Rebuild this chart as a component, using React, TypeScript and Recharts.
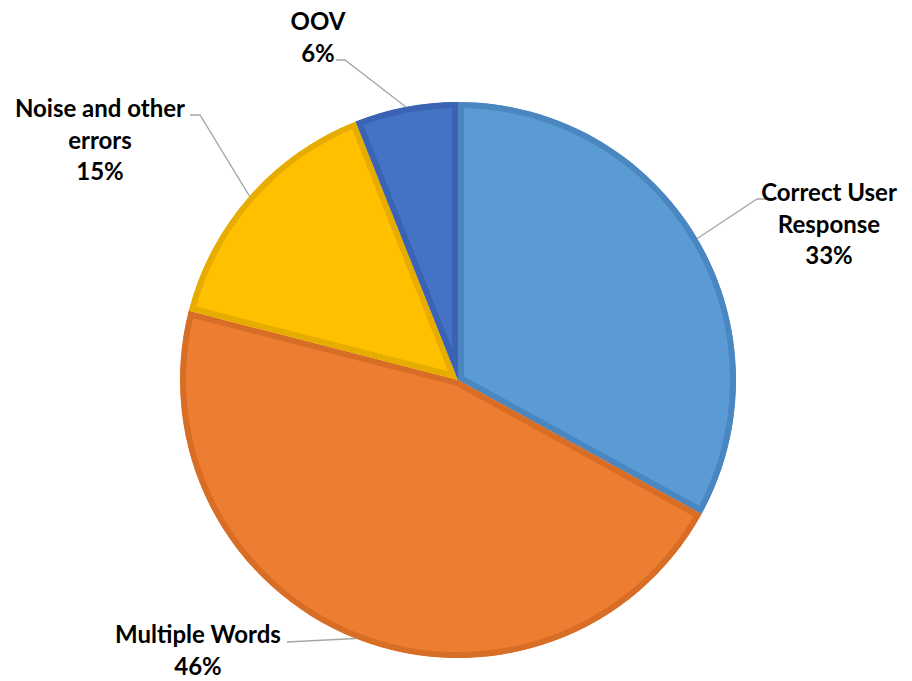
import React from 'react';
import { PieChart, Pie, Cell, Sector } from 'recharts';

const categories = ['Correct User Response', 'Multiple Words', 'Noise and other errors', 'OOV'];
const shares = [33, 46, 15, 6];
// how each label is broken into lines in the original
const labelLines = [['Correct User', 'Response'], ['Multiple Words'], ['Noise and other', 'errors'], ['OOV']];

const fills = ['#5B9BD5', '#ED7D31', '#FFC000', '#4472C4'];
const borders = ['#4A86C0', '#D86E26', '#E6AC00', '#3A64B3'];

// label placement, relative to the pie centre: text centre/first baseline, elbow and line end
const labelLayout = [
  { tx: 371, ty: -179, ex: 299, ey: -181, hx: 309 },
  { tx: -260, ty: 263, ex: -171, ey: 262, hx: -171 },
  { tx: -358, ty: -263, ex: -258, ey: -265, hx: -268 },
  { tx: -140, ty: -350, ex: -113, ey: -320, hx: -122 },
];

const data = categories.map((name, i) => ({ name, value: shares[i] }));

const RAD = Math.PI / 180;
const FONT = 'Lato, "Open Sans", sans-serif';

const renderSlice = (props: any) => {
  const i = props.index ?? 0;
  const id = `slice-clip-${i}`;
  return (
    <g>
      <defs>
        <clipPath id={id}>
          <Sector {...props} stroke="none" />
        </clipPath>
      </defs>
      <Sector {...props} fill={fills[i]} stroke={borders[i]} strokeWidth={12} clipPath={`url(#${id})`} />
    </g>
  );
};

const renderLabel = (props: any) => {
  const { cx, cy, midAngle, outerRadius, index } = props;
  const l = labelLayout[index];
  const sx = cx + outerRadius * Math.cos(-midAngle * RAD);
  const sy = cy + outerRadius * Math.sin(-midAngle * RAD);
  const lines = [...labelLines[index], `${shares[index]}%`];
  return (
    <g>
      <polyline
        points={`${sx},${sy} ${cx + l.ex},${cy + l.ey} ${cx + l.hx},${cy + l.ey}`}
        fill="none"
        stroke="#A6A6A6"
        strokeWidth={1.3}
      />
      <text x={cx + l.tx} y={cy + l.ty} textAnchor="middle" fontFamily={FONT} fontWeight={700} fontSize={24} fill="#000">
        {lines.map((t, k) => (
          <tspan key={k} x={cx + l.tx} dy={k === 0 ? 0 : 31.5}>{t}</tspan>
        ))}
      </text>
    </g>
  );
};

export default function App() {
  return (
    <div style={{ position: 'absolute', left: 0, top: 0, width: 912, height: 681, background: '#fff' }}>
      <PieChart width={912} height={681} margin={{ top: 0, right: 0, bottom: 0, left: 0 }}>
        <Pie
          data={data}
          dataKey="value"
          nameKey="name"
          cx={458}
          cy={380}
          outerRadius={278}
          startAngle={90}
          endAngle={-270}
          isAnimationActive={false}
          shape={renderSlice}
          activeShape={renderSlice}
          inactiveShape={renderSlice}
          label={renderLabel}
          labelLine={false}
          stroke="none"
        >
          {data.map((d, i) => (
            <Cell key={d.name} fill={fills[i]} />
          ))}
        </Pie>
      </PieChart>
    </div>
  );
}
